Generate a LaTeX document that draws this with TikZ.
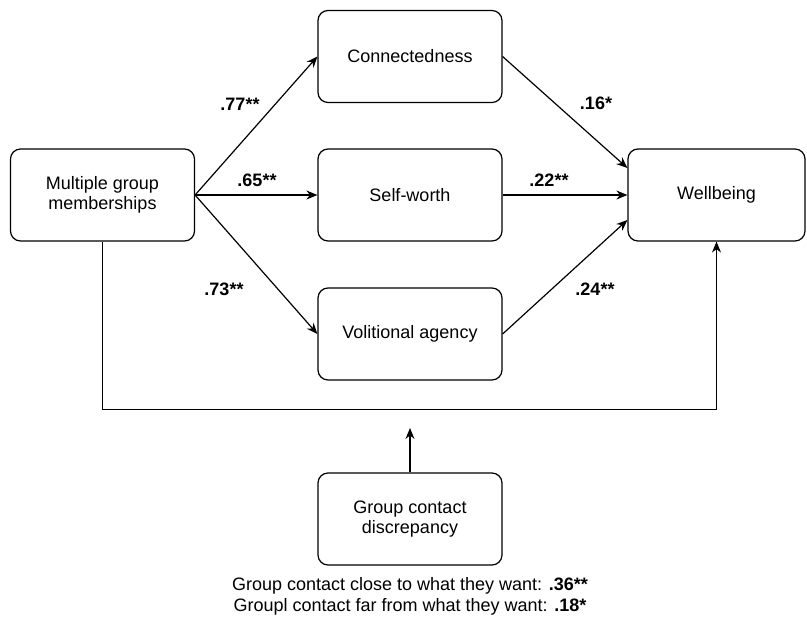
\documentclass[tikz,border=0pt]{standalone}
\usepackage{fontspec}
\setmainfont{Liberation Sans}
\usetikzlibrary{arrows.meta,calc}
\begin{document}
\begin{tikzpicture}[x=1pt,y=-1pt,
  box/.style={draw=black,line width=1.2pt,rounded corners=10pt,minimum width=184pt,minimum height=92pt,inner sep=0pt,align=center,font=\fontsize{18}{20}\selectfont},
  arr/.style={line width=1.2pt,-{Stealth[length=11pt,width=9pt]}},
  lab/.style={font=\fontsize{18}{20}\selectfont\bfseries,inner sep=0pt}]
\useasboundingbox (0,0) rectangle (807,624);
\node[box] (mgm) at (102.5,195) {Multiple group\\memberships};
\node[box] (conn) at (410,56.5) {Connectedness};
\node[box] (sw) at (410,195) {Self-worth};
\node[box] (va) at (410,334) {Volitional agency};
\node[box,minimum width=177pt] (wb) at (716.5,195) {Wellbeing};
\node[box] (gcd) at (410,519) {Group contact\\discrepancy};
\coordinate (mod) at (410,428);
\draw[arr] (mgm.east) -- (conn.west);
\draw[arr] (mgm.east) -- (sw.west);
\draw[arr] (mgm.east) -- (va.west);
\draw[arr] (conn.east) -- ($(wb.west)+(0,-27)$);
\draw[arr] (sw.east) -- (wb.west);
\draw[arr] (va.east) -- ($(wb.west)+(0,25)$);
\draw[arr] (mgm.south) -- ++(0,168) -| (wb.south);
\draw[arr] (gcd.north) -- (mod);
\node[lab] (l1) at (240,104) {.77**};
\node[lab] (l2) at (257,180) {.65**};
\node[lab] (l3) at (224,289) {.73**};
\node[lab] (l4) at (596,103) {.16*};
\node[lab] (l5) at (549,180) {.22**};
\node[lab] (l6) at (595,289) {.24**};
\node[align=center,inner sep=0pt,font=\fontsize{18}{21}\selectfont] (note) at (410,596) {Group contact close to what they want: \textbf{.36**}\\Groupl contact far from what they want: \textbf{.18*}};
\end{tikzpicture}
\end{document}
